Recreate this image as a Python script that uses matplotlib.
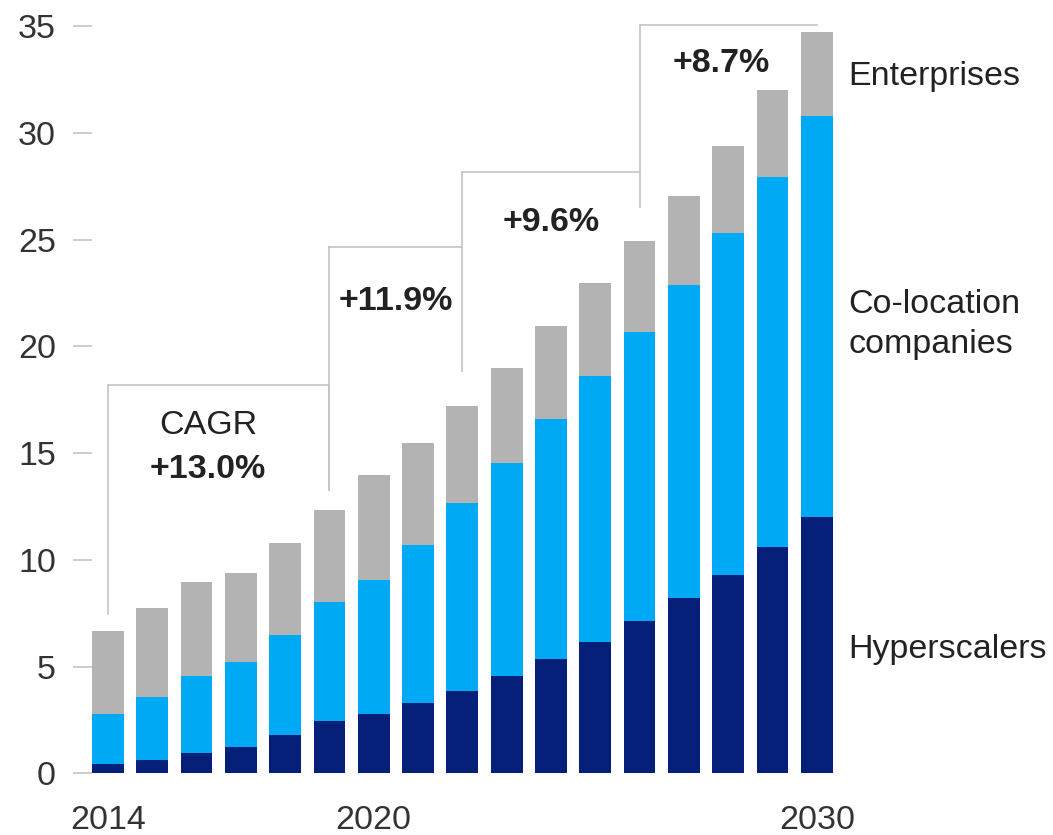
import matplotlib.pyplot as plt
import numpy as np

plt.rcParams['font.family'] = ['Liberation Sans', 'DejaVu Sans']

years = list(range(2014, 2031))
hyperscalers = [0.42, 0.64, 0.97, 1.23, 1.78, 2.45, 2.78, 3.27, 3.87, 4.54,
                5.34, 6.15, 7.13, 8.19, 9.31, 10.58, 11.99]
colocation_top = [2.78, 3.57, 4.57, 5.21, 6.48, 8.01, 9.06, 10.70, 12.66, 14.53,
                  16.58, 18.62, 20.68, 22.87, 25.32, 27.91, 30.78]
totals = [6.68, 7.73, 8.96, 9.40, 10.79, 12.33, 13.97, 15.47, 17.21, 19.00,
          20.97, 22.95, 24.93, 27.03, 29.38, 31.98, 34.74]

series_names = ['Hyperscalers', 'Co-location\ncompanies', 'Enterprises']
colors = ['#061f78', '#00a9f4', '#b3b3b3']

# CAGR brackets: start year, end year, bracket level, label
cagr_start = [2014, 2019, 2022, 2026]
cagr_end = [2019, 2022, 2026, 2030]
cagr_level = [18.2, 24.65, 28.15, 35.05]
cagr_labels = ['+13.0%', '+11.9%', '+9.6%', '+8.7%']
bracket_start_low = [7.45, 13.25, 18.85, 26.5]

hyper = np.array(hyperscalers)
coloc = np.array(colocation_top) - hyper
enter = np.array(totals) - np.array(colocation_top)

FS = 24.5
TXT = '#222222'

fig = plt.figure(figsize=(10.53, 8.35), dpi=100)
ax = fig.add_axes([92 / 1053, 61.7 / 835, 740.7 / 1053, 747.3 / 835])

x = np.arange(len(years))
w = 0.72
ax.bar(x, hyper, w, color=colors[0])
ax.bar(x, coloc, w, bottom=hyper, color=colors[1])
ax.bar(x, enter, w, bottom=np.array(colocation_top), color=colors[2])

ax.set_xlim(-0.36, len(years) - 1 + 0.36)
ax.set_ylim(0, 35)
for s in ax.spines.values():
    s.set_visible(False)

ax.set_yticks(range(0, 36, 5))
ax.tick_params(axis='y', length=14, width=1.2, color='#c4c4c4',
               labelsize=FS, labelcolor='#333333', pad=12)
xt = [years.index(y) for y in (2014, 2020, 2030)]
ax.set_xticks(xt)
ax.set_xticklabels(['2014', '2020', '2030'])
ax.tick_params(axis='x', length=0, labelsize=FS, labelcolor='#333333', pad=23)

# brackets
line_kw = dict(color='#c4c4c4', lw=1.2, clip_on=False)
for i in range(len(cagr_start)):
    a = years.index(cagr_start[i])
    b = years.index(cagr_end[i])
    lvl = cagr_level[i]
    ax.plot([a, a], [bracket_start_low[i], lvl], **line_kw)
    ax.plot([a, b], [lvl, lvl], **line_kw)
ax.plot([years.index(2019)] * 2, [bracket_start_low[1], cagr_level[0]], **line_kw)

# CAGR labels
ax.text(2.26, 16.3, 'CAGR', fontsize=FS, color=TXT, ha='center', va='center')
ax.text(2.26, 14.25, cagr_labels[0], fontsize=FS, fontweight='bold',
        color=TXT, ha='center', va='center')
ax.text(6.5, 22.1, cagr_labels[1], fontsize=FS, fontweight='bold',
        color=TXT, ha='center', va='center')
ax.text(10.0, 25.8, cagr_labels[2], fontsize=FS, fontweight='bold',
        color=TXT, ha='center', va='center')
ax.text(13.85, 33.25, cagr_labels[3], fontsize=FS, fontweight='bold',
        color=TXT, ha='center', va='center')

# series labels at right, beside last bar
last = len(years) - 1
mids = [hyper[last] / 2 - 0.2,
        (hyper[last] + colocation_top[last]) / 2 - 0.35,
        (colocation_top[last] + totals[last]) / 2 - 0.12]
for name, m in zip(series_names, mids):
    ax.text(last + 0.72, m, name, fontsize=FS, color=TXT,
            ha='left', va='center', linespacing=1.38)

fig.savefig('out.png', dpi=100)
